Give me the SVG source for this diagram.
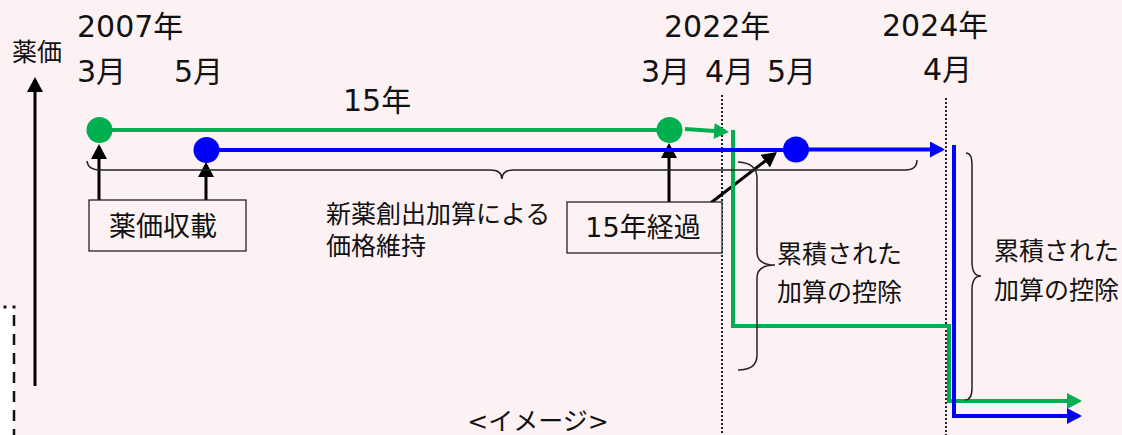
<svg xmlns="http://www.w3.org/2000/svg" width="1122" height="435" viewBox="0 0 1122 435">
  <style>
    text { font-family: "DejaVu Sans", "Noto Sans CJK JP", sans-serif; fill: #111; }
    .date { font-size: 30px; }
    .body { font-size: 25px; }
    .boxt { font-size: 27px; }
    .box { fill: #FDF2F3; stroke: #222; stroke-width: 1.3; }
    .brace { fill: none; stroke: #222; stroke-width: 1.5; }
    .arrow { fill: none; stroke: #000; stroke-width: 3; marker-end: url(#ahBlack); }
    .dotted { fill: none; stroke: #222; stroke-width: 2; stroke-dasharray: 2 2; }
    .green { fill: none; stroke: #00B050; stroke-width: 4; }
    .blue { fill: none; stroke: #0000FF; stroke-width: 4; }
  </style>
  <defs>
    <marker id="ahBlack" markerUnits="userSpaceOnUse" markerWidth="16" markerHeight="16" refX="12" refY="8" orient="auto">
      <path d="M0,0 L15,8 L0,16 Z" fill="#000"/>
    </marker>
    <marker id="ahGreen" markerUnits="userSpaceOnUse" markerWidth="16" markerHeight="16" refX="12" refY="8" orient="auto">
      <path d="M0,0 L15,8 L0,16 Z" fill="#00B050"/>
    </marker>
    <marker id="ahBlue" markerUnits="userSpaceOnUse" markerWidth="16" markerHeight="16" refX="12" refY="8" orient="auto">
      <path d="M0,0 L15,8 L0,16 Z" fill="#0000FF"/>
    </marker>
  </defs>

  <rect x="0" y="0" width="1122" height="435" fill="#FDF2F3"/>

  <!-- partial dashed frame at left -->
  <g id="left-frame">
    <rect x="0" y="307" width="14" height="128" fill="#FFFFFF"/>
    <rect x="3.5" y="305.5" width="3" height="3" fill="#111"/>
    <rect x="12.5" y="305.5" width="3" height="3" fill="#111"/>
    <path d="M14,307 V435" fill="none" stroke="#111" stroke-width="2.5" stroke-dasharray="11 8" stroke-dashoffset="11"/>
  </g>

  <!-- guides -->
  <g id="guides">
    <path class="dotted" d="M722,95 V435"/>
    <path class="dotted" d="M946,98 V435"/>
  </g>

  <!-- connectors -->
  <g id="connectors">
    <path class="arrow" d="M35,386 V80"/>
    <path class="arrow" d="M99,200 V147"/>
    <path class="arrow" d="M206,200 V165"/>
    <path class="arrow" d="M669,202 V146"/>
    <path class="arrow" d="M708,205 L774.6,153.8"/>
    <path class="green" d="M99,130 H669"/>
    <path class="green" stroke-width="3.5" d="M685,129 L726,131.8" marker-end="url(#ahGreen)"/>
    <path class="green" d="M733,130 V326 H949 V401 H1079" marker-end="url(#ahGreen)"/>
    <path class="blue" d="M206,150 H796"/>
    <path class="blue" stroke-width="3.5" d="M796,149.5 H942" marker-end="url(#ahBlue)"/>
    <path class="blue" d="M954,145 V416 H1079" marker-end="url(#ahBlue)"/>
  </g>

  <!-- braces -->
  <g id="brace-horizontal">
    <path class="brace" d="M87,161 Q88,170 100,170 H490 Q502,170 502,179 Q502,170 514,170 H905 Q917,170 917,160"/>
  </g>
  <g id="brace-2022">
    <path class="brace" d="M738,162 Q757,163 757,178 V252 Q757,265 775,265 Q757,265 757,278 V355 Q757,370 738,370"/>
  </g>
  <g id="brace-2024">
    <path class="brace" d="M966,153 Q972,153 972,165 V262 Q972,276 981,276 Q972,276 972,290 V388 Q972,400 965,400"/>
  </g>

  <!-- points -->
  <g id="point-green-2007"><circle cx="99.5" cy="130" r="13" fill="#00B050"/></g>
  <g id="point-blue-2007"><circle cx="206.5" cy="150" r="13" fill="#0000FF"/></g>
  <g id="point-green-2022"><circle cx="669.5" cy="130" r="13" fill="#00B050"/></g>
  <g id="point-blue-2022"><circle cx="796" cy="149.5" r="13" fill="#0000FF"/></g>

  <!-- labels -->
  <g id="axis-label"><text class="body" x="12" y="61">薬価</text></g>
  <g id="date-2007">
    <text class="date" x="77" y="37">2007年</text>
    <text class="date" x="77" y="82">3月</text>
    <text class="date" x="174" y="82">5月</text>
  </g>
  <g id="label-15"><text class="date" x="343" y="111">15年</text></g>
  <g id="date-2022">
    <text class="date" x="664" y="37">2022年</text>
    <text class="date" x="641" y="82">3月</text>
    <text class="date" x="705" y="82">4月</text>
    <text class="date" x="767" y="82">5月</text>
  </g>
  <g id="date-2024">
    <text class="date" x="882" y="36">2024年</text>
    <text class="date" x="923" y="80">4月</text>
  </g>

  <g id="box-listing">
    <rect class="box" x="89" y="200" width="157" height="51"/>
    <text class="boxt" x="163" y="236" text-anchor="middle">薬価収載</text>
  </g>
  <g id="box-15years">
    <rect class="box" x="567" y="202" width="155" height="51"/>
    <text class="boxt" x="643" y="237" text-anchor="middle">15年経過</text>
  </g>

  <g id="label-maintain">
    <text class="body" x="326" y="223">新薬創出加算による</text>
    <text class="body" x="326" y="255">価格維持</text>
  </g>
  <g id="label-deduct-2022">
    <text class="body" x="777" y="263">累積された</text>
    <text class="body" x="777" y="301">加算の控除</text>
  </g>
  <g id="label-deduct-2024">
    <text class="body" x="994" y="260">累積された</text>
    <text class="body" x="994" y="299">加算の控除</text>
  </g>
  <g id="caption"><text class="body" x="538" y="430" text-anchor="middle">&lt;イメージ&gt;</text></g>
</svg>
